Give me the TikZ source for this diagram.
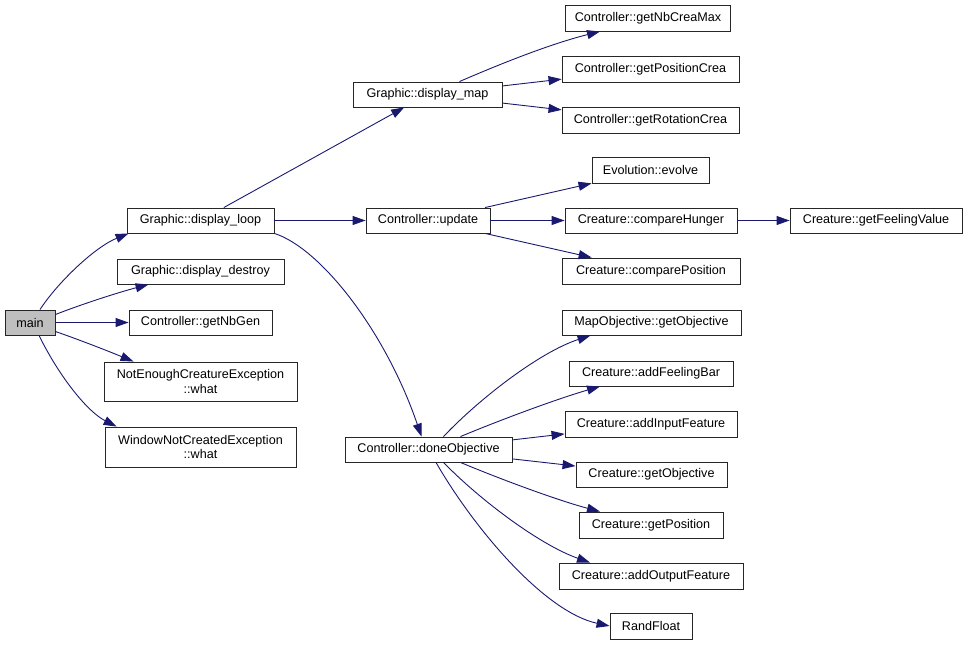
\documentclass[tikz,border=0pt]{standalone}
\usepackage{fontspec}
\setmainfont{Liberation Sans}
\usetikzlibrary{arrows.meta}
\definecolor{edgeblue}{HTML}{191970}
\definecolor{mainfill}{HTML}{BFBFBF}
\begin{document}
\begin{tikzpicture}[x=1pt,y=-1pt,
  fn/.style={draw=black!85,line width=0.9pt,fill=white,rectangle,inner sep=0pt,
    minimum height=25pt,align=center,font=\fontsize{12.6}{14.7}\selectfont},
  fn2/.style={fn,minimum height=39pt},
  edge/.style={draw=edgeblue,line width=0.9pt,-{Triangle[length=13pt,width=9pt]}}]
\useasboundingbox (0,0) rectangle (968,645);
% nodes
\node[fn,fill=mainfill,minimum width=50pt] (main) at (30,322.5) {main};
\node[fn,minimum width=147pt] (dloop) at (200.5,220.5) {Graphic::display\_loop};
\node[fn,minimum width=167pt] (ddestroy) at (200.5,271.5) {Graphic::display\_destroy};
\node[fn,minimum width=143pt] (nbgen) at (200.5,322.5) {Controller::getNbGen};
\node[fn2,minimum width=193pt] (notenough) at (200.5,381.5) {NotEnoughCreatureException\\::what};
\node[fn2,minimum width=191pt,minimum height=40pt] (window) at (200.5,447) {WindowNotCreatedException\\::what};
\node[fn,minimum width=149pt] (dmap) at (427.5,94.5) {Graphic::display\_map};
\node[fn,minimum width=165pt,minimum height=26pt] (nbcrea) at (648,18) {Controller::getNbCreaMax};
\node[fn,minimum width=177pt,minimum height=26pt] (poscrea) at (650.5,69) {Controller::getPositionCrea};
\node[fn,minimum width=177pt,minimum height=26pt] (rotcrea) at (650.5,120) {Controller::getRotationCrea};
\node[fn,minimum width=117pt,minimum height=26pt] (evolve) at (650.5,170) {Evolution::evolve};
\node[fn,minimum width=124pt] (update) at (428,220.5) {Controller::update};
\node[fn,minimum width=172pt] (hunger) at (651,220.5) {Creature::compareHunger};
\node[fn,minimum width=172pt] (feeling) at (876,220.5) {Creature::getFeelingValue};
\node[fn,minimum width=178pt,minimum height=26pt] (comppos) at (651,271) {Creature::comparePosition};
\node[fn,minimum width=167pt] (done) at (428.5,449.5) {Controller::doneObjective};
\node[fn,minimum width=179pt] (mapobj) at (651.5,322.5) {MapObjective::getObjective};
\node[fn,minimum width=164pt] (feelbar) at (651,373.5) {Creature::addFeelingBar};
\node[fn,minimum width=172pt,minimum height=26pt] (inputf) at (651,424) {Creature::addInputFeature};
\node[fn,minimum width=151pt] (getobj) at (651.5,474.5) {Creature::getObjective};
\node[fn,minimum width=144pt,minimum height=26pt] (getpos) at (651,525) {Creature::getPosition};
\node[fn,minimum width=184pt,minimum height=26pt] (outputf) at (651,576) {Creature::addOutputFeature};
\node[fn,minimum width=82pt,minimum height=26pt] (randf) at (651,626) {RandFloat};
% edges from main
\draw[edge] ([xshift=10pt]main.north) .. controls (58,282) and (95,247) .. ([xshift=2pt]dloop.south west);
\draw[edge] ([yshift=8pt]main.east) .. controls (85,303) and (120,292) .. ([xshift=32pt]ddestroy.south west);
\draw[edge] (main) -- (nbgen);
\draw[edge] ([yshift=-9pt]main.east) .. controls (80,340) and (108,351) .. ([xshift=30pt]notenough.north west);
\draw[edge] ([xshift=9pt]main.south) .. controls (60,378) and (88,412) .. ([xshift=12pt]window.north west);
% edges from display_loop
\draw[edge] (dloop) -- (dmap);
\draw[edge] (dloop) -- (update);
\draw[edge] (dloop.south east) .. controls (320,248) and (385,330) .. ([xshift=-7pt]done.north);
% edges from display_map
\draw[edge] ([xshift=32pt]dmap.north) .. controls (500,64) and (550,44) .. ([xshift=-48pt]nbcrea.south);
\draw[edge] (dmap) -- (poscrea);
\draw[edge] (dmap) -- (rotcrea);
% edges from update
\draw[edge] (update) -- (evolve);
\draw[edge] (update) -- (hunger);
\draw[edge] (hunger) -- (feeling);
\draw[edge] (update) -- (comppos);
% edges from doneObjective
\draw[edge] ([xshift=15pt]done.north) .. controls (480,398) and (540,352) .. ([xshift=-61pt]mapobj.south);
\draw[edge] ([xshift=32pt]done.north) .. controls (505,418) and (560,398) .. ([xshift=-51pt]feelbar.south);
\draw[edge] (done) -- (inputf);
\draw[edge] (done) -- (getobj);
\draw[edge] ([xshift=32pt]done.south) .. controls (505,481) and (560,501) .. ([xshift=-51pt]getpos.north);
\draw[edge] ([xshift=15pt]done.south) .. controls (480,500) and (540,545) .. ([xshift=-61pt]outputf.north);
\draw[edge] ([xshift=7.5pt]done.south) .. controls (475,530) and (545,612) .. (randf.west);
\end{tikzpicture}
\end{document}
